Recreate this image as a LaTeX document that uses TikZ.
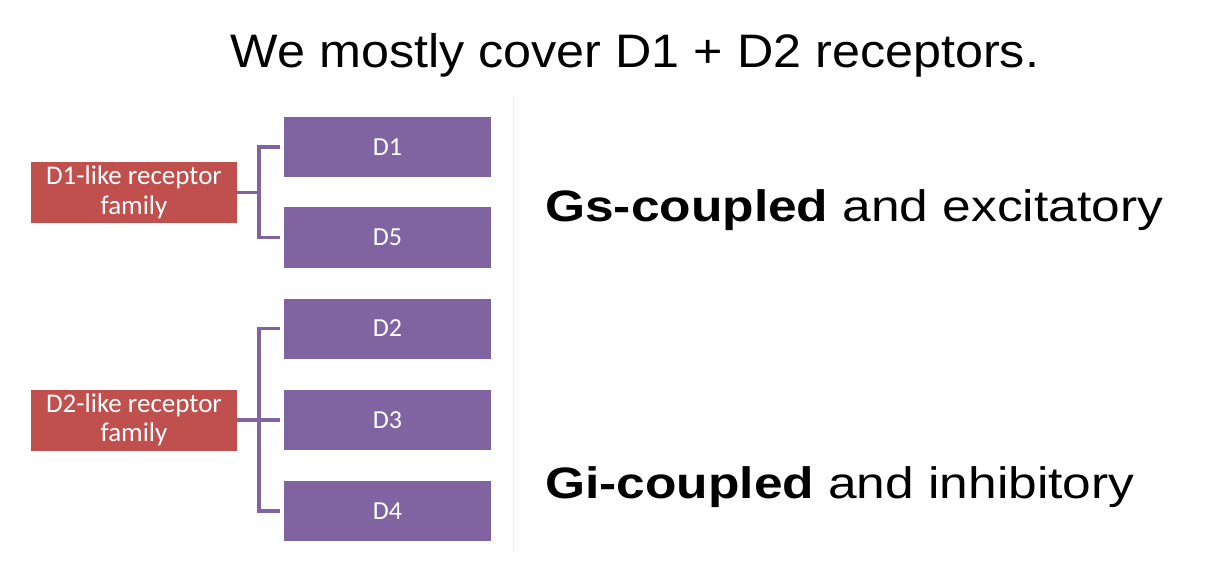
\documentclass[tikz,border=0pt]{standalone}
\usepackage{fontspec}
\setmainfont{Liberation Sans}
\newfontfamily\titlefont{Liberation Sans}[FakeStretch=1.07]
\newfontfamily\sidefont{Liberation Sans}[FakeStretch=1.17]
\newfontfamily\boxfont{Carlito}
\definecolor{redbox}{HTML}{C0504D}
\definecolor{purplebox}{HTML}{8064A2}
\begin{document}
\begin{tikzpicture}[x=1pt,y=-1pt,
  family/.style={fill=redbox, draw=none, minimum width=206pt, minimum height=61pt,
    text=white, font=\boxfont\fontsize{27}{29.5}\selectfont, align=center, inner sep=0pt},
  receptor/.style={fill=purplebox, draw=none, minimum width=207pt, minimum height=60pt,
    text=white, font=\boxfont\fontsize{26}{28}\selectfont, inner sep=0pt},
  bracket/.style={draw=purplebox, line width=3.5pt},
  sidetext/.style={font=\sidefont\fontsize{44}{52}\selectfont, inner sep=0pt}]
\useasboundingbox[fill=white] (0,0) rectangle (1215,572);
\draw[black!6, line width=1pt] (513,95) -- (513,553);
\node[anchor=base, inner sep=0pt, font=\titlefont\fontsize{47}{54}\selectfont] (title) at (635,68) {We mostly cover D1 + D2 receptors.};
% family 1
\node[family] (f1) at (134,192.5) {D1-like receptor\\family};
\node[receptor] (d1) at (387.5,147) {D1};
\node[receptor] (d5) at (387.5,237.5) {D5};
\coordinate (b1) at (259,192.5);
\draw[bracket] (f1.east) -- (b1);
\draw[bracket, line join=miter] ([xshift=-4pt]d1.west) -| (b1) |- ([xshift=-4pt]d5.west);
% family 2
\node[family] (f2) at (134,420) {D2-like receptor\\family};
\node[receptor] (d2) at (387.5,328.5) {D2};
\node[receptor] (d3) at (387.5,420) {D3};
\node[receptor] (d4) at (387.5,511) {D4};
\coordinate (b2) at (259,420);
\draw[bracket] (f2.east) -- ([xshift=-4pt]d3.west);
\draw[bracket, line join=miter] ([xshift=-4pt]d2.west) -| (b2) |- ([xshift=-4pt]d4.west);
% right texts
\node[sidetext, anchor=base west] (gs) at (545,222) {\textbf{Gs-coupled} and excitatory};
\node[sidetext, anchor=base west] (gi) at (545,498) {\textbf{Gi-coupled} and inhibitory};
\end{tikzpicture}
\end{document}
